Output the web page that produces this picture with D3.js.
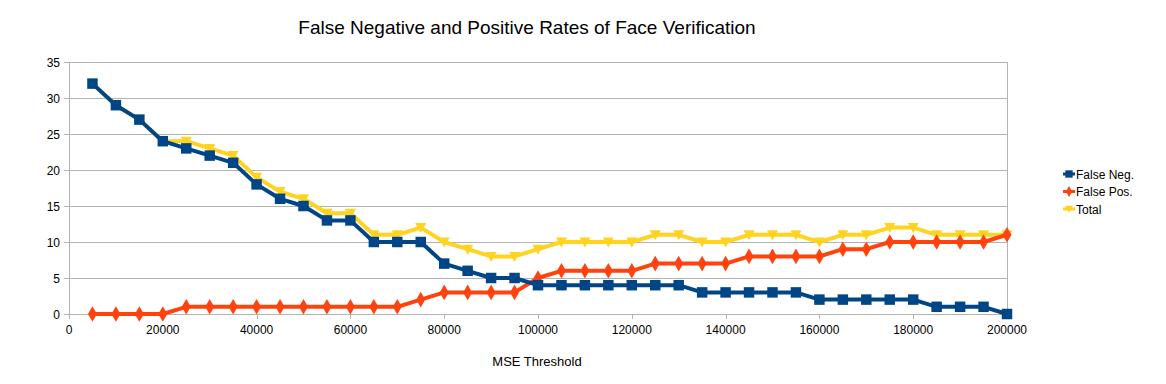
<!DOCTYPE html>
<html><head><meta charset="utf-8">
<script src="https://cdn.jsdelivr.net/npm/d3@7"></script>
<style>body{margin:0;background:#fff}svg{display:block;font-family:"Liberation Sans",Arial,sans-serif}</style>
</head><body><svg id="c" width="1166" height="384"></svg>
<script>
const thresholds = d3.range(1,41).map(i=>i*5000);
const falseNeg = [32,29,27,24,23,22,21,18,16,15,13,13,10,10,10,7,6,5,5,4,4,4,4,4,4,4,3,3,3,3,3,2,2,2,2,2,1,1,1,0];
const falsePos = [0,0,0,0,1,1,1,1,1,1,1,1,1,1,2,3,3,3,3,5,6,6,6,6,7,7,7,7,8,8,8,8,9,9,10,10,10,10,10,11];
const total = [32,29,27,24,24,23,22,19,17,16,14,14,11,11,12,10,9,8,8,9,10,10,10,10,11,11,10,10,11,11,11,10,11,11,12,12,11,11,11,11];
const xTicks = d3.range(0,200001,20000);
const yTicks = d3.range(0,36,5);
const seriesNames = ["False Neg.","False Pos.","Total"];
const colors = ["#004586","#ff420e","#ffd320"];
const shapes = [d3.symbolSquare, d3.symbolDiamond, "tri"];

const svg = d3.select("#c");
const x = d3.scaleLinear().domain([0,200000]).range([69,1007]);
const y = d3.scaleLinear().domain([0,35]).range([314,62]);

svg.append("g").selectAll("line").data(yTicks).join("line")
  .attr("x1",64).attr("x2",1007).attr("y1",d=>y(d)+0.5).attr("y2",d=>y(d)+0.5)
  .attr("stroke","#b3b3b3").attr("stroke-width",1);
svg.append("line").attr("x1",69.5).attr("x2",69.5).attr("y1",62).attr("y2",314).attr("stroke","#b3b3b3");
svg.append("line").attr("x1",1007.5).attr("x2",1007.5).attr("y1",62).attr("y2",314).attr("stroke","#b3b3b3");
svg.append("g").selectAll("line").data(xTicks).join("line")
  .attr("x1",d=>Math.round(x(d))+0.5).attr("x2",d=>Math.round(x(d))+0.5).attr("y1",314).attr("y2",319)
  .attr("stroke","#b3b3b3");

svg.append("g").selectAll("text").data(yTicks).join("text")
  .attr("x",60).attr("y",d=>y(d)+4.5).attr("text-anchor","end").attr("font-size",12).attr("fill","#000").text(d=>d);
svg.append("g").selectAll("text").data(xTicks).join("text")
  .attr("x",d=>x(d)).attr("y",334).attr("text-anchor","middle").attr("font-size",12).attr("fill","#000").text(d=>d);

svg.append("text").attr("x",527).attr("y",34).attr("text-anchor","middle").attr("font-size",19).text("False Negative and Positive Rates of Face Verification");
svg.append("text").attr("x",537).attr("y",366).attr("text-anchor","middle").attr("font-size",13).text("MSE Threshold");

function marker(g, i, cx, cy){
  if(shapes[i]==="tri"){
    g.append("path").attr("d",`M${cx-5.5},${cy-4.5}L${cx+5.5},${cy-4.5}L${cx},${cy+5.5}Z`).attr("fill",colors[i]);
  } else {
    const size = i===0?110:70;
    g.append("path").attr("d",d3.symbol(shapes[i],size)()).attr("transform",`translate(${cx},${cy})`).attr("fill",colors[i]);
  }
}

const data = [falseNeg,falsePos,total];
const line = d3.line().x((d,j)=>x(thresholds[j])).y(d=>y(d));
[2,1,0].forEach(i=>{
  const g = svg.append("g");
  g.append("path").datum(data[i]).attr("d",line).attr("fill","none").attr("stroke",colors[i]).attr("stroke-width",4).attr("stroke-linejoin","round");
  data[i].forEach((v,j)=>marker(g,i,x(thresholds[j]),y(v)));
});

seriesNames.forEach((n,i)=>{
  const ly = 174 + i*17.5;
  const g = svg.append("g");
  g.append("line").attr("x1",1063).attr("x2",1075).attr("y1",ly).attr("y2",ly).attr("stroke",colors[i]).attr("stroke-width",3);
  const lg = g.append("g").attr("transform",`translate(${1069},${ly}) scale(0.7) translate(${-1069},${-ly})`);
  marker(lg,i,1069,ly);
  g.append("text").attr("x",1076).attr("y",ly+4.5).attr("font-size",12).text(n);
});
</script></body></html>
